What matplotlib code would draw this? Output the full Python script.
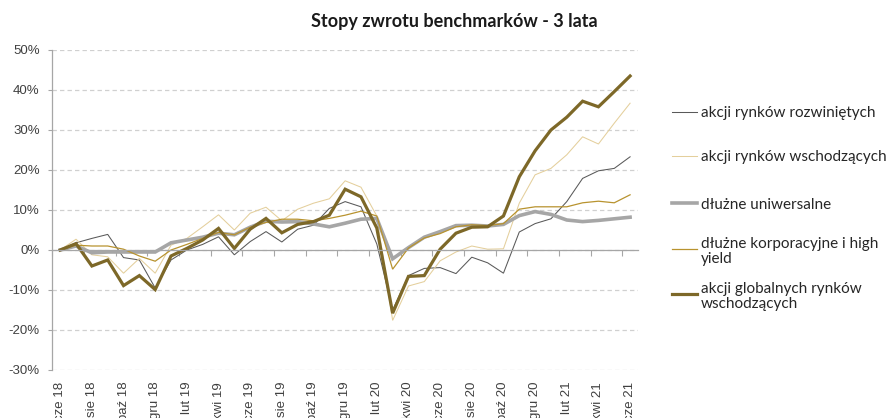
import matplotlib
matplotlib.use("Agg")
import matplotlib.pyplot as plt
from matplotlib.lines import Line2D
import numpy as np

months = ["cze 18", "lip 18", "sie 18", "wrz 18", "paź 18", "lis 18", "gru 18",
          "sty 19", "lut 19", "mar 19", "kwi 19", "maj 19", "cze 19", "lip 19",
          "sie 19", "wrz 19", "paź 19", "lis 19", "gru 19", "sty 20", "lut 20",
          "mar 20", "kwi 20", "maj 20", "cze 20", "lip 20", "sie 20", "wrz 20",
          "paź 20", "lis 20", "gru 20", "sty 21", "lut 21", "mar 21", "kwi 21",
          "maj 21", "cze 21"]

developed = [0, 1.8, 2.9, 3.9, -1.9, -2.5, -9.5, -2.5, 0, 1.4, 3.3, -1.2, 2.1, 4.6,
             2.0, 5.2, 6.2, 10.4, 12.1, 10.8, 1.5, -15.0, -6.4, -4.6, -4.4, -5.9,
             -1.8, -3.2, -5.8, 4.5, 6.6, 7.8, 12.1, 17.9, 19.8, 20.4, 23.3]
emerging = [0, 2.7, -1.2, -1.7, -5.8, -2.1, -5.8, 1.2, 2.9, 5.8, 8.8, 5.0, 9.2, 10.7,
            7.3, 10.2, 11.7, 12.8, 17.3, 15.7, 8.5, -17.6, -9.0, -7.9, -2.7, -0.5,
            1.0, 0.2, 0.3, 11.7, 18.8, 20.4, 23.8, 28.3, 26.5, 31.7, 36.7]
universal = [0, 1.0, -0.7, -0.5, -0.5, -0.5, -0.5, 1.8, 2.5, 3.2, 4.2, 3.8, 5.7, 7.2,
             7.0, 7.1, 6.5, 5.8, 6.7, 7.7, 7.9, -2.2, 0.6, 3.2, 4.6, 6.1, 6.2, 6.0,
             6.4, 8.6, 9.6, 8.9, 7.5, 7.1, 7.4, 7.8, 8.2]
corporate = [0, 1.2, 1.0, 1.0, 0.2, -1.5, -2.8, 0, 1.4, 2.9, 4.4, 3.8, 5.7, 6.9, 7.7,
             7.7, 7.3, 7.9, 8.7, 9.7, 8.5, -4.8, 0.5, 3.0, 4.1, 5.8, 6.3, 6.1, 6.6,
             10.2, 10.8, 10.8, 10.8, 11.8, 12.2, 11.8, 13.8]
global_em = [0, 1.6, -4.0, -2.5, -8.9, -6.4, -9.9, -1.5, 0.4, 2.5, 5.4, 0.4, 5.2, 7.9,
             4.3, 6.4, 7.1, 8.7, 15.2, 13.3, 5.5, -15.8, -6.6, -6.4, 0.2, 4.2, 5.7,
             5.8, 8.5, 18.3, 24.8, 30.0, 33.2, 37.2, 35.8, 39.6, 43.5]

series_labels = ["akcji rynków rozwiniętych", "akcji rynków wschodzących",
                 "dłużne uniwersalne", "dłużne korporacyjne i high\nyield",
                 "akcji globalnych rynków\nwschodzących"]
title = "Stopy zwrotu benchmarków - 3 lata"
yticks = [-30, -20, -10, 0, 10, 20, 30, 40, 50]

colors = ["#595959", "#e4cf9c", "#a6a6a6", "#b8932f", "#7d6828"]
widths = [0.75, 0.75, 2.6, 0.9, 2.3]

W, H = 892, 418
fig = plt.figure(figsize=(W / 100, H / 100), dpi=100)
ax = fig.add_axes([52.3 / W, 1 - 370 / H, (638 - 52.3) / W, (370 - 50) / H])

x = np.arange(len(months))
data = [developed, emerging, universal, corporate, global_em]
for vals, c, lw in zip(data, colors, widths):
    ax.plot(x, vals, color=c, lw=lw, solid_joinstyle="miter")

ax.set_xlim(-0.5, len(months) - 0.5)
ax.set_ylim(-30, 50)
ax.set_yticks(yticks)
ax.set_yticklabels([f"{v}%" for v in yticks], fontname="Liberation Sans",
                   fontsize=9.5, color="#404040")
ax.yaxis.grid(True, linestyle=(0, (3.5, 2.5)), color="#d0d0d0", lw=0.9)
ax.set_axisbelow(True)
ax.tick_params(axis="y", length=3, width=0.8, color="#a6a6a6", pad=6)

for s in ["top", "right"]:
    ax.spines[s].set_visible(False)
ax.spines["left"].set_color("#a6a6a6")
ax.spines["left"].set_linewidth(0.9)
ax.spines["bottom"].set_position(("data", 0))
ax.spines["bottom"].set_color("#a6a6a6")
ax.spines["bottom"].set_linewidth(0.9)

tick_pos = np.arange(-0.5, len(months), 2)
ax.set_xticks(tick_pos)
ax.set_xticklabels([])
ax.tick_params(axis="x", length=4, width=0.8, color="#a6a6a6", direction="out")

sec = ax.secondary_xaxis("bottom")
sec.set_xticks(x[::2], labels=months[::2])
sec.tick_params(axis="x", length=0, pad=8.5, labelrotation=90,
                labelsize=9.5, labelcolor="#404040")
for lab in sec.get_xticklabels():
    lab.set_fontname("Liberation Sans")
sec.spines["bottom"].set_visible(False)

fig.text(454 / W, 1 - 27 / H, title, ha="center", va="baseline",
         fontname="Lato", fontweight="bold", fontsize=13, color="#1a1a1a")

slots = [112, 156, 203, 249, 294]
for lab, c, lw, yy in zip(series_labels, colors, widths, slots):
    fig.add_artist(Line2D([671.5 / W, 697 / W], [1 - yy / H, 1 - yy / H],
                          color=c, lw=lw, transform=fig.transFigure))
    fig.text(701 / W, 1 - yy / H, lab, ha="left", va="center_baseline",
             fontname="Lato", fontsize=11, color="#262626", linespacing=1.15)

fig.savefig("out.png", dpi=100)
